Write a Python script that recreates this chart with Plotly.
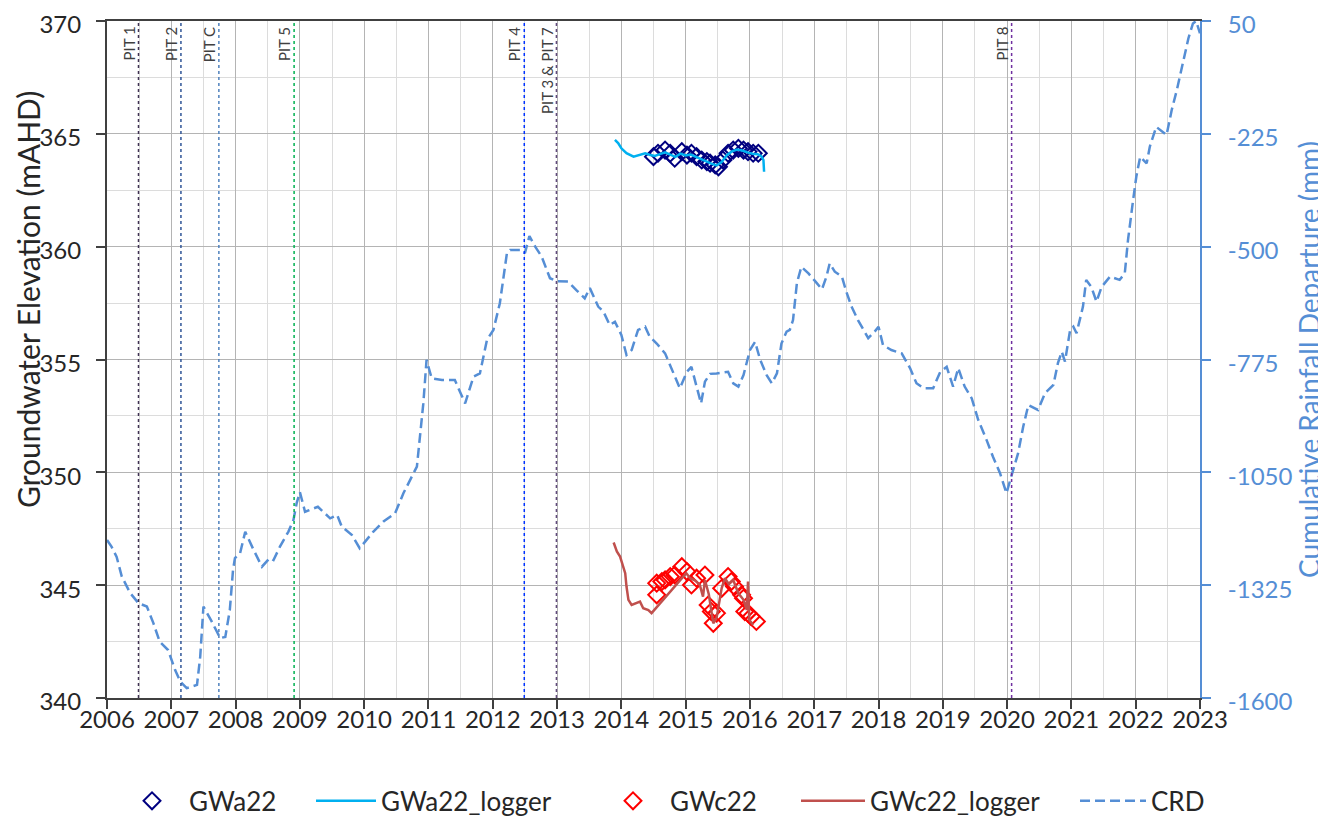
import plotly.graph_objects as go

# ---------------- data ----------------
crd_year = [2006.00, 2006.07, 2006.15, 2006.23, 2006.36, 2006.49, 2006.62, 2006.72, 2006.82, 2006.95,
            2007.06, 2007.14, 2007.24, 2007.40, 2007.45, 2007.50, 2007.63, 2007.76, 2007.84, 2007.91,
            2007.96, 2007.99, 2008.07, 2008.15, 2008.28, 2008.41, 2008.53, 2008.59, 2008.69, 2008.82,
            2008.90, 2008.95, 2009.00, 2009.08, 2009.28, 2009.47, 2009.58, 2009.65, 2009.81, 2009.93,
            2010.14, 2010.30, 2010.48, 2010.61, 2010.82, 2010.87, 2010.92, 2010.97, 2011.05, 2011.21,
            2011.41, 2011.57, 2011.70, 2011.80, 2011.91, 2012.01, 2012.11, 2012.22, 2012.27, 2012.45,
            2012.50, 2012.57, 2012.66, 2012.76, 2012.89, 2012.99, 2013.17, 2013.30, 2013.43, 2013.51,
            2013.64, 2013.72, 2013.82, 2013.90, 2014.00, 2014.08, 2014.16, 2014.26, 2014.37, 2014.44,
            2014.55, 2014.68, 2014.81, 2014.91, 2015.02, 2015.09, 2015.17, 2015.24, 2015.30, 2015.38,
            2015.48, 2015.66, 2015.74, 2015.82, 2015.90, 2016.00, 2016.08, 2016.16, 2016.26, 2016.34,
            2016.42, 2016.49, 2016.57, 2016.62, 2016.67, 2016.73, 2016.80, 2016.91, 2017.04, 2017.12,
            2017.19, 2017.24, 2017.32, 2017.43, 2017.50, 2017.58, 2017.68, 2017.84, 2017.94, 2018.00,
            2018.07, 2018.20, 2018.36, 2018.49, 2018.59, 2018.70, 2018.85, 2018.96, 2019.06, 2019.16,
            2019.24, 2019.34, 2019.45, 2019.55, 2019.68, 2019.78, 2019.89, 2019.99, 2020.07, 2020.17,
            2020.25, 2020.33, 2020.48, 2020.59, 2020.72, 2020.79, 2020.85, 2020.90, 2020.98, 2021.03,
            2021.08, 2021.18, 2021.23, 2021.31, 2021.39, 2021.47, 2021.60, 2021.75, 2021.83, 2021.88,
            2021.96, 2022.01, 2022.07, 2022.17, 2022.22, 2022.32, 2022.48, 2022.56, 2022.64, 2022.74,
            2022.82, 2022.89, 2022.94, 2023.00]
crd_mm = [-1215, -1231, -1256, -1304, -1344, -1369, -1377, -1417, -1463, -1483,
          -1532, -1560, -1576, -1568, -1499, -1377, -1414, -1454, -1451, -1386,
          -1288, -1259, -1247, -1195, -1239, -1280, -1259, -1264, -1231, -1195,
          -1166, -1125, -1098, -1146, -1134, -1162, -1154, -1182, -1203, -1235,
          -1195, -1170, -1150, -1101, -1036, -963, -882, -776, -821, -825,
          -825, -882, -817, -809, -727, -703, -638, -516, -508, -508,
          -516, -474, -500, -524, -577, -584, -585, -606, -626, -601,
          -646, -658, -691, -683, -715, -764, -752, -703, -695, -719,
          -736, -760, -809, -845, -805, -793, -841, -882, -829, -810,
          -809, -805, -833, -841, -813, -752, -732, -776, -813, -833,
          -809, -736, -707, -703, -679, -589, -549, -565, -589, -604,
          -573, -541, -561, -573, -610, -646, -679, -723, -707, -695,
          -740, -752, -760, -796, -833, -845, -845, -805, -793, -841,
          -796, -841, -870, -922, -971, -1012, -1052, -1101, -1057, -1004,
          -939, -886, -898, -857, -837, -784, -756, -780, -703, -695,
          -711, -646, -581, -598, -634, -598, -573, -581, -565, -484,
          -386, -329, -281, -297, -256, -208, -228, -167, -118, -45,
          8, 44, 50, 20]

gwa_log_year = [2013.90, 2013.95, 2014.00, 2014.08, 2014.19, 2014.29, 2014.37, 2014.45, 2014.52, 2014.60,
                2014.68, 2014.76, 2014.84, 2014.92, 2015.00, 2015.08, 2015.16, 2015.24, 2015.32, 2015.40,
                2015.48, 2015.56, 2015.64, 2015.72, 2015.80, 2015.88, 2015.96, 2016.04, 2016.12, 2016.18,
                2016.21, 2016.22]
gwa_log = [364.73, 364.59, 364.36, 364.14, 363.99, 364.06, 364.14, 364.06, 364.02, 364.10,
           364.18, 364.08, 363.98, 364.12, 364.04, 364.08, 363.98, 363.85, 363.78, 363.68,
           363.60, 363.75, 364.05, 364.22, 364.30, 364.26, 364.18, 364.12, 364.10, 364.00,
           363.84, 363.32]

gwa_year = [2014.50, 2014.57, 2014.68, 2014.76, 2014.83, 2014.94, 2015.02, 2015.09, 2015.17, 2015.25,
            2015.33, 2015.38, 2015.46, 2015.51, 2015.58, 2015.66, 2015.74, 2015.82, 2015.90, 2015.97,
            2016.05, 2016.13]
gwa = [363.99, 364.14, 364.28, 364.14, 363.92, 364.21, 364.06, 364.14, 363.99, 363.84,
       363.77, 363.70, 363.62, 363.54, 363.84, 364.14, 364.28, 364.36, 364.28, 364.21,
       364.14, 364.14]

gwc_log_year = [2013.88, 2013.93, 2013.98, 2014.01, 2014.06, 2014.08, 2014.11, 2014.16, 2014.24, 2014.29,
                2014.34, 2014.42, 2014.47, 2015.01, 2015.07, 2015.15, 2015.22, 2015.27, 2015.30, 2015.36,
                2015.43, 2015.48, 2015.56, 2015.61, 2015.67, 2015.74, 2015.82, 2015.90, 2015.95, 2015.97,
                2015.99, 2016.05]
gwc_log = [346.89, 346.49, 346.27, 345.97, 345.53, 344.94, 344.35, 344.12, 344.20, 344.27,
           343.98, 343.90, 343.76, 345.53, 345.31, 345.20, 345.01, 344.49, 345.23, 344.60,
           343.31, 343.54, 344.86, 345.31, 345.05, 345.23, 344.64, 344.35, 343.90, 345.16,
           343.46, 343.24]

gwc_year = [2014.55, 2014.55, 2014.63, 2014.68, 2014.76, 2014.83, 2014.94, 2015.02, 2015.09, 2015.17,
            2015.30, 2015.35, 2015.40, 2015.43, 2015.48, 2015.56, 2015.66, 2015.71, 2015.76, 2015.87,
            2015.90, 2015.92, 2015.97, 2016.02, 2016.10]
gwc = [344.57, 345.09, 345.16, 345.23, 345.38, 345.45, 345.82, 345.60, 345.01, 345.31,
       345.45, 344.12, 343.83, 343.31, 343.76, 344.86, 345.38, 345.16, 344.94, 344.57,
       344.42, 343.83, 343.76, 343.61, 343.39]

pit_names = ["PIT 1", "PIT 2", "PIT C", "PIT 5", "PIT 4", "PIT 3 & PIT 7", "PIT 8"]
pit_year = [2006.49, 2007.15, 2007.74, 2008.91, 2012.49, 2012.99, 2020.07]
pit_colors = ["#3f3151", "#2f5597", "#4f81bd", "#00b050", "#0033ff", "#604a7b", "#7030a0"]

year_ticks = list(range(2006, 2024))
left_ticks = [340, 345, 350, 355, 360, 365, 370]
right_ticks = [-1600, -1325, -1050, -775, -500, -225, 50]

for a, b in [(crd_year, crd_mm), (gwa_log_year, gwa_log), (gwa_year, gwa),
             (gwc_log_year, gwc_log), (gwc_year, gwc)]:
    assert len(a) == len(b)

# ---------------- figure ----------------
FONT = "Lato"
TXT = "#262626"
BLUE = "#558ed5"
PAGE_OFF = 8                      # default body margin of the html page
W, H = 1326 - PAGE_OFF, 819 - PAGE_OFF
L, R, T = 107 - PAGE_OFF, 126, 21 - PAGE_OFF
PW = W - L - R
PH = 677
B = H - T - PH


def px(xp):
    """page pixel x -> paper fraction"""
    return (xp - PAGE_OFF - L) / PW


def py(yp):
    """page pixel y -> paper fraction"""
    return (T + PH - (yp - PAGE_OFF)) / PH


fig = go.Figure()

fig.add_trace(go.Scatter(
    x=gwa_year, y=gwa, mode="markers", name="GWa22",
    marker=dict(symbol="diamond-open", size=13, color="#000080", line=dict(width=2, color="#000080")),
    legend="legend"))
fig.add_trace(go.Scatter(
    x=gwa_log_year, y=gwa_log, mode="lines", name="GWa22_logger",
    line=dict(color="#00b0f0", width=2.5), legend="legend2"))
fig.add_trace(go.Scatter(
    x=gwc_year, y=gwc, mode="markers", name="GWc22",
    marker=dict(symbol="diamond-open", size=13, color="#ff0000", line=dict(width=2, color="#ff0000")),
    legend="legend3"))
fig.add_trace(go.Scatter(
    x=gwc_log_year, y=gwc_log, mode="lines", name="GWc22_logger",
    line=dict(color="#c0504d", width=2.5), legend="legend4"))
fig.add_trace(go.Scatter(
    x=crd_year, y=crd_mm, mode="lines", name="CRD", yaxis="y2",
    line=dict(color=BLUE, width=2.5, dash="10px,5px"), legend="legend5"))

# PIT vertical lines + labels
for name, yr, col in zip(pit_names, pit_year, pit_colors):
    fig.add_shape(type="line", xref="x", yref="paper", x0=yr, x1=yr, y0=0, y1=1,
                  line=dict(color=col, width=1.5, dash="dot"), layer="above")
    fig.add_annotation(x=yr, y=1, xref="x", yref="paper", text=name, textangle=-90,
                       showarrow=False, xanchor="right", yanchor="top", yshift=-4, xshift=1,
                       font=dict(family=FONT, size=15, color="#404040"))

# left axis title (placed as in the reference, above the plot centre)
fig.add_annotation(x=px(28), y=py(300), xref="paper", yref="paper",
                   text="Groundwater Elevation (mAHD)", textangle=-90, showarrow=False,
                   xanchor="center", yanchor="middle",
                   font=dict(family=FONT, size=30, color=TXT))

leg_common = dict(orientation="h", yanchor="middle", y=-0.152, xanchor="left",
                  font=dict(family=FONT, size=26, color=TXT), bgcolor="rgba(0,0,0,0)",
                  borderwidth=0)
fig.update_layout(
    width=W, height=H,
    margin=dict(l=L, r=R, t=T, b=B, autoexpand=False),
    paper_bgcolor="white", plot_bgcolor="white",
    font=dict(family=FONT, size=24, color=TXT),
    showlegend=True,
    legend=dict(x=px(115), itemwidth=64, **leg_common),
    legend2=dict(x=px(311), itemwidth=60, **leg_common),
    legend3=dict(x=px(596), itemwidth=64, **leg_common),
    legend4=dict(x=px(796), itemwidth=64, **leg_common),
    legend5=dict(x=px(1075), itemwidth=66, **leg_common),
    xaxis=dict(
        range=[2006, 2023], tickvals=year_ticks, ticktext=[str(v) for v in year_ticks],
        showgrid=True, gridcolor="#b4b4b4", gridwidth=1,
        minor=dict(dtick=0.5, tick0=2006, showgrid=True, gridcolor="#dcdcdc", gridwidth=1),
        showline=True, linecolor="#404040", linewidth=2, mirror=True,
        ticks="outside", ticklen=9, tickcolor="#404040", tickwidth=1.5,
        tickfont=dict(family=FONT, size=24, color=TXT), zeroline=False,
        automargin=False, ticklabelstandoff=-10, ticklabeloverflow="allow",
    ),
    yaxis=dict(
        range=[340, 370], tickvals=left_ticks,
        showgrid=True, gridcolor="#b4b4b4", gridwidth=1,
        minor=dict(dtick=2.5, tick0=340, showgrid=True, gridcolor="#dcdcdc", gridwidth=1),
        showline=True, linecolor="#404040", linewidth=2,
        ticks="outside", ticklen=9, tickcolor="#404040", tickwidth=1.5,
        tickfont=dict(family=FONT, size=24, color=TXT), zeroline=False,
        automargin=False, ticklabelstandoff=10, ticklabeloverflow="allow", ticklabelshift=4,
    ),
    yaxis2=dict(
        range=[-1600, 50], tickvals=right_ticks, ticktext=[str(v) for v in right_ticks],
        overlaying="y", side="right",
        showgrid=False, zeroline=False,
        showline=True, linecolor=BLUE, linewidth=2,
        ticks="outside", ticklen=9, tickcolor=BLUE, tickwidth=1.5,
        tickfont=dict(family=FONT, size=24, color=BLUE),
        automargin=False, ticklabelstandoff=12, ticklabeloverflow="allow", ticklabelshift=4,
        title=dict(text="Cumulative Rainfall Departure (mm)", font=dict(family=FONT, size=28, color=BLUE),
                   standoff=4),
    ),
)

fig.write_html("out.html")
